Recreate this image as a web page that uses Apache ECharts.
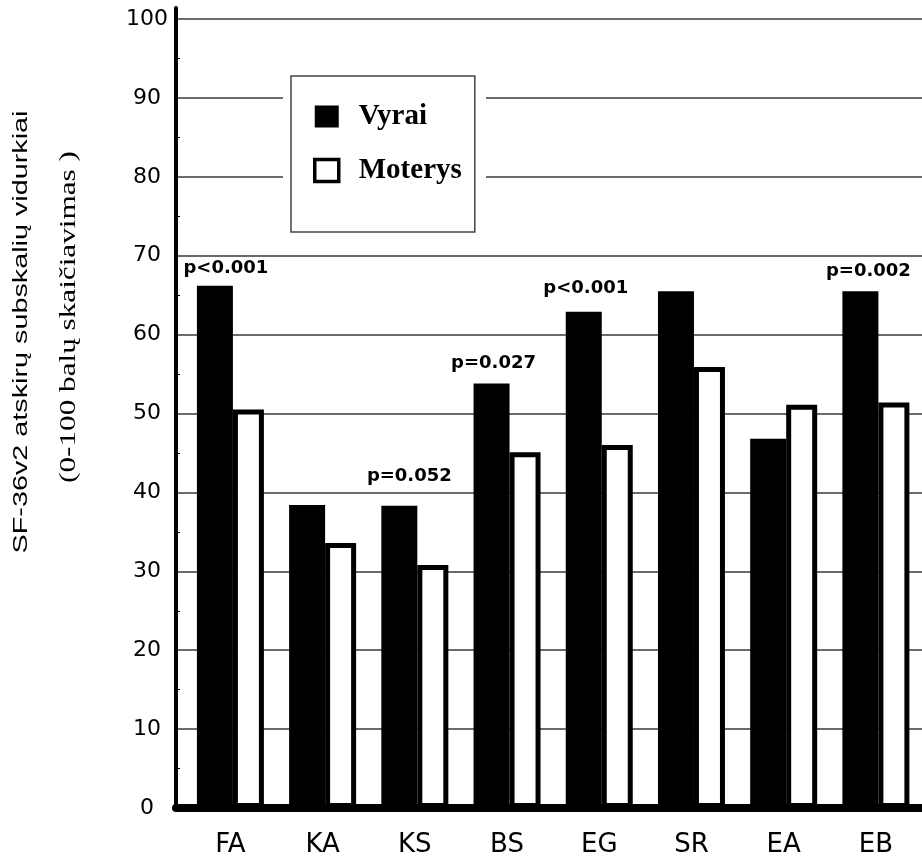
<!DOCTYPE html>
<html>
<head>
<meta charset="utf-8">
<script src="https://cdn.jsdelivr.net/npm/echarts@6/dist/echarts.min.js"></script>
<style>
  html, body { margin: 0; padding: 0; background: #fff; }
  #chart { width: 922px; height: 861px; }
</style>
</head>
<body>
<div id="chart"></div>
<script>
// SF-36v2 subscale means (0-100 scoring), men vs women
const categories = ['FA', 'KA', 'KS', 'BS', 'EG', 'SR', 'EA', 'EB'];
const vyrai = [66.2, 38.4, 38.3, 53.8, 62.9, 65.5, 46.8, 65.5];
const moterys = [50.5, 33.6, 30.8, 45.1, 46.0, 55.9, 51.1, 51.4];
const pValues = ['p<0.001', '', 'p=0.052', 'p=0.027', 'p<0.001', '', '', 'p=0.002'];
const seriesNames = ['Vyrai', 'Moterys'];
const axisTitle = ['SF-36v2 atskirų subskalių vidurkiai', '(0-100 balų skaičiavimas )'];

// small per-label nudges for the significance notes [dx, dy] in px
const pLabelNudge = [[11, -8], [0, 0], [10, -21], [2, -11], [2, -14], [0, 0], [0, 0], [8, -11]];

const chart = echarts.init(document.getElementById('chart'), null, { renderer: 'canvas' });

const blackData = vyrai.map((v, i) => ({
  value: [i, v],
  label: {
    show: pValues[i] !== '',
    formatter: pValues[i],
    offset: pLabelNudge[i]
  }
}));
const whiteData = moterys.map((v, i) => [i, v]);

const option = {
  backgroundColor: '#ffffff',
  animation: false,
  grid: { left: 176, top: 8, right: -4, bottom: 53, containLabel: false },
  xAxis: {
    type: 'value',
    min: -0.59,
    max: 7.5,
    splitNumber: 8,
    z: 3,
    axisLine: { show: true, onZero: false, lineStyle: { color: '#000', width: 8 } },
    axisTick: { show: false },
    splitLine: { show: false },
    axisLabel: {
      margin: 24,
      fontFamily: 'DejaVu Sans',
      fontSize: 26,
      color: '#000',
      showMinLabel: false,
      showMaxLabel: false,
      formatter: function (v) {
        return Number.isInteger(v) && categories[v] ? categories[v] : '';
      }
    }
  },
  yAxis: {
    type: 'value',
    min: 0,
    max: 101.4,
    interval: 10,
    axisLine: { show: true, onZero: false, lineStyle: { color: '#000', width: 4 } },
    axisTick: { show: false, inside: true },
    minorTick: { show: true, splitNumber: 2, length: 4, lineStyle: { color: '#000', width: 1 } },
    splitLine: { show: true, showMaxLine: false, lineStyle: { color: '#3a3a3a', width: 1.5 } },
    axisLabel: {
      align: 'center',
      margin: 29,
      fontFamily: 'DejaVu Sans',
      fontSize: 22,
      color: '#000',
      showMaxLabel: false,
      formatter: function (v) { return v <= 100 ? String(v) : ''; }
    }
  },
  legend: {
    orient: 'vertical',
    left: 291,
    top: 76,
    padding: [26, 13, 47, 22],
    itemGap: 25,
    itemWidth: 24,
    itemHeight: 22,
    icon: 'rect',
    z: 4,
    backgroundColor: '#fff',
    borderColor: '#444',
    borderWidth: 1.5,
    borderRadius: 0,
    textStyle: {
      fontFamily: 'Liberation Serif',
      fontWeight: 'bold',
      fontSize: 29,
      color: '#000',
      padding: [0, 0, 0, 15]
    },
    data: [
      { name: seriesNames[0] },
      { name: seriesNames[1], itemStyle: { borderWidth: 3.5 } }
    ]
  },
  graphic: [
    {
      type: 'rect',
      z: 3,
      silent: true,
      shape: { x: 283, y: 70, width: 203, height: 170 },
      style: { fill: '#fff' }
    },
    {
      type: 'text',
      x: 21,
      y: 332,
      rotation: Math.PI / 2,
      scaleX: 1.37,
      silent: true,
      style: {
        text: axisTitle[0],
        font: '21px "Liberation Sans"',
        fill: '#000',
        align: 'center',
        verticalAlign: 'middle'
      }
    },
    {
      type: 'text',
      x: 68.5,
      y: 317,
      rotation: Math.PI / 2,
      scaleX: 1.30,
      silent: true,
      style: {
        text: axisTitle[1],
        font: '24px "Liberation Serif"',
        fill: '#000',
        align: 'center',
        verticalAlign: 'middle'
      }
    }
  ],
  series: [
    {
      name: seriesNames[0],
      type: 'bar',
      barWidth: 36,
      barGap: '0%',
      itemStyle: { color: '#000' },
      label: {
        position: 'top',
        distance: 0,
        fontFamily: 'DejaVu Sans',
        fontWeight: 'bold',
        fontSize: 18,
        lineHeight: 18,
        color: '#000'
      },
      data: blackData
    },
    {
      name: seriesNames[1],
      type: 'bar',
      barWidth: 31,
      barGap: '0%',
      itemStyle: { color: '#fff', borderColor: '#000', borderWidth: 5 },
      data: whiteData
    }
  ]
};

chart.setOption(option);
</script>
</body>
</html>
